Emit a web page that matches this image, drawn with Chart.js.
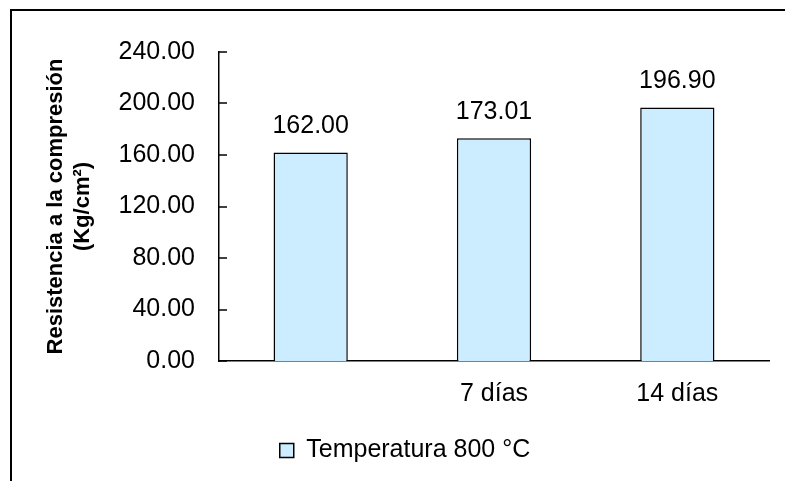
<!DOCTYPE html>
<html>
<head>
<meta charset="utf-8">
<script src="https://cdn.jsdelivr.net/npm/chart.js@4.4.1/dist/chart.umd.min.js"></script>
<style>
  html, body { margin: 0; padding: 0; background: #fff; }
  #wrap { width: 785px; height: 481px; position: relative; }
</style>
</head>
<body>
<div id="wrap"><canvas id="chart"></canvas></div>
<script>
const categories = ['', '7 días', '14 días'];
const seriesLabel = 'Temperatura 800 °C';
const values = [162.00, 173.01, 196.90];
const yTitle = ['Resistencia a la compresión', '(Kg/cm²)'];
const yMin = 0, yMax = 240, yStep = 40;

const FONT = "'Liberation Sans', Arial, sans-serif";
Chart.defaults.color = '#000';
Chart.defaults.font.family = FONT;

// outer frame (only top and left edges are visible in the picture)
const framePlugin = {
    id: 'frame',
    beforeDraw(chart) {
        const c = chart.ctx;
        c.save();
        c.fillStyle = '#fff';
        c.fillRect(0, 0, chart.width, chart.height);
        c.strokeStyle = '#000';
        c.lineWidth = 2;
        c.beginPath();
        c.moveTo(11, chart.height);
        c.lineTo(11, 10);
        c.lineTo(chart.width, 10);
        c.stroke();
        c.restore();
    }
};

// tick marks on the inside of the y axis
const innerTicks = {
    id: 'innerTicks',
    afterDraw(chart) {
        const s = chart.scales.y;
        const left = chart.chartArea.left;
        const c = chart.ctx;
        c.save();
        c.strokeStyle = '#000';
        c.lineWidth = 1.5;
        s.ticks.forEach((t, i) => {
            const y = Math.round(s.getPixelForTick(i));
            c.beginPath();
            c.moveTo(left, y);
            c.lineTo(left + 8, y);
            c.stroke();
        });
        c.restore();
    }
};

// value labels above the bars
const valueLabels = {
    id: 'valueLabels',
    afterDatasetsDraw(chart) {
        const c = chart.ctx;
        const meta = chart.getDatasetMeta(0);
        c.save();
        c.fillStyle = '#000';
        c.font = '25px ' + FONT;
        c.textAlign = 'center';
        c.textBaseline = 'middle';
        meta.data.forEach((bar, i) => {
            c.fillText(values[i].toFixed(2), bar.x, bar.y - 26);
        });
        c.restore();
    }
};

new Chart(document.getElementById('chart'), {
    type: 'bar',
    data: {
        labels: categories,
        datasets: [{
            label: seriesLabel,
            data: values,
            backgroundColor: '#CCECFF',
            borderColor: '#000',
            borderWidth: 1.5,
            barPercentage: 0.405,
            categoryPercentage: 1
        }]
    },
    options: {
        responsive: true,
        maintainAspectRatio: false,
        animation: false,
        layout: { padding: { left: 41, right: 16, top: 52, bottom: 8 } },
        plugins: {
            tooltip: { enabled: false },
            legend: {
                position: 'bottom',
                labels: {
                    font: { size: 25 },
                    color: '#000',
                    boxWidth: 14,
                    boxHeight: 14,
                    padding: 12
                }
            }
        },
        scales: {
            x: {
                grid: { display: false },
                border: { color: '#000', width: 1.5 },
                ticks: { font: { size: 25 }, color: '#000', padding: 10, maxRotation: 0 },
                afterFit(s) { s.height = 65; }
            },
            y: {
                min: yMin,
                max: yMax,
                grid: { display: false, drawTicks: false },
                border: { color: '#000', width: 1.5 },
                ticks: {
                    stepSize: yStep,
                    font: { size: 25 },
                    color: '#000',
                    padding: 24,
                    callback: v => Number(v).toFixed(2)
                },
                title: {
                    display: true,
                    text: yTitle,
                    font: { size: 22, weight: 'bold' },
                    color: '#000',
                    padding: { top: 2, bottom: 0 }
                },
                afterFit(s) { s.width = 178; }
            }
        }
    },
    plugins: [framePlugin, innerTicks, valueLabels]
});
</script>
</body>
</html>
